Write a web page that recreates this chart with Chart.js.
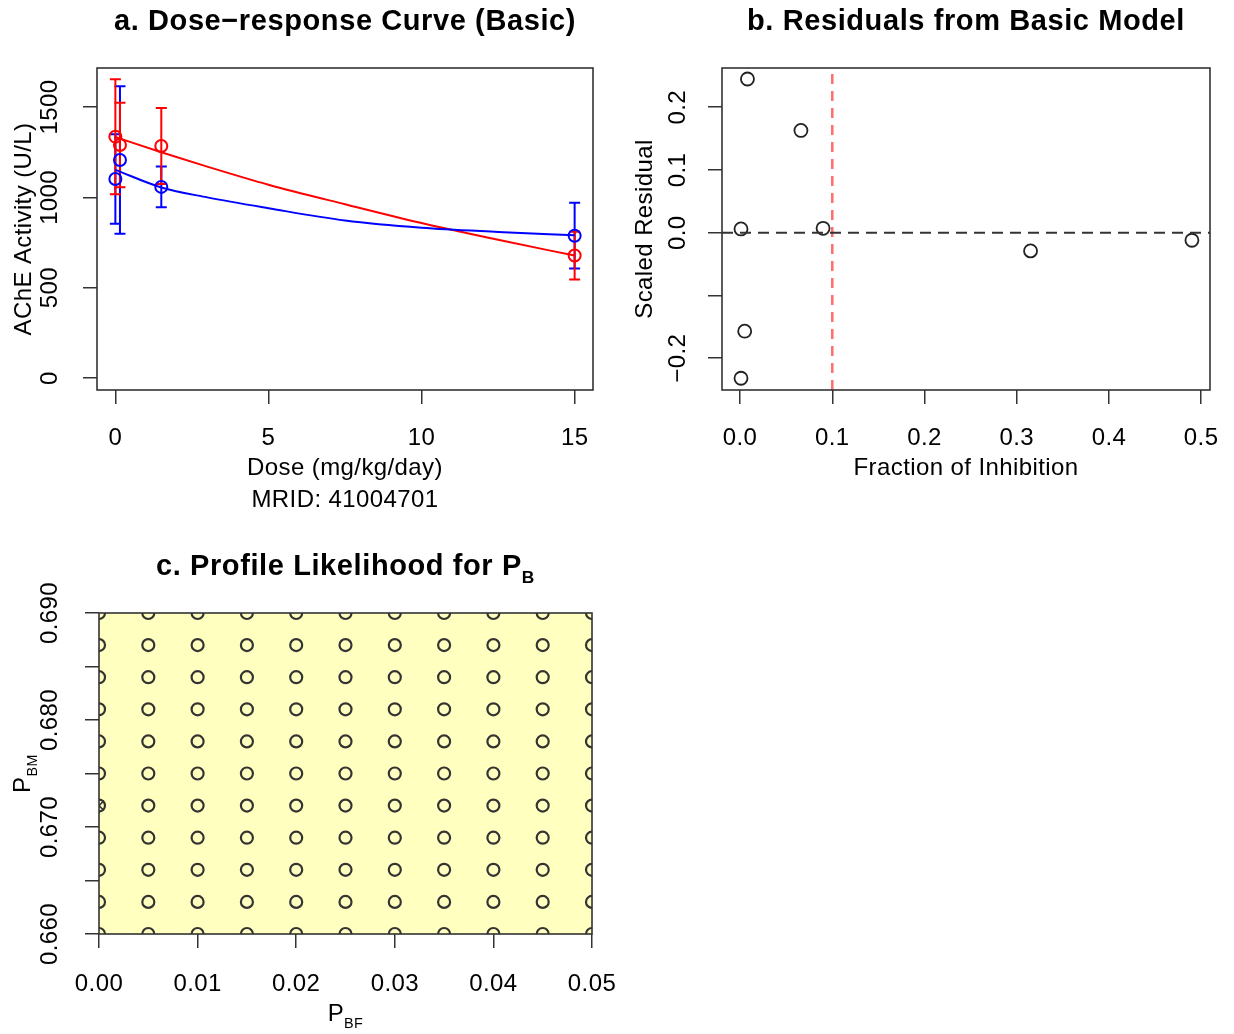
<!DOCTYPE html>
<html>
<head>
<meta charset="utf-8">
<script src="https://cdn.jsdelivr.net/npm/chart.js@4.4.0/dist/chart.umd.min.js"></script>
<style>
  body { margin: 0; background: #fff; }
  .panel { position: absolute; width: 617px; height: 517px; }
</style>
</head>
<body>
<div class="panel" style="left:0;top:0"><canvas id="chartA" width="617" height="517"></canvas></div>
<div class="panel" style="left:617px;top:0"><canvas id="chartB" width="617" height="517"></canvas></div>
<div class="panel" style="left:0;top:517px"><canvas id="chartC" width="617" height="517"></canvas></div>
<script>
// ---- a. dose-response data ----
let doses = [0, 0.15, 1.5, 15];
let redMeans = [1336, 1290, 1284, 678];
let redSd = [318, 234, 210, 132];
let blueMeans = [1102, 1207, 1058, 788];
let blueSd = [248, 408, 113, 182];
// fitted curves
let fitDoses = [0, 1.5, 3, 5, 7.5, 10, 12.5, 15];
let redFit = [1334, 1250, 1170, 1070, 962, 858, 765, 678];
let blueFit = [1152, 1055, 1000, 940, 872, 832, 809, 790];
let doseTicks = [0, 5, 10, 15];
let doseLabels = ['0', '5', '10', '15'];
let activityTicks = [0, 500, 1000, 1500];
let activityLabels = ['0', '500', '1000', '1500'];

// ---- b. residuals ----
let residFraction = [0.008, 0.066, 0.001, 0.090, 0.315, 0.490, 0.005, 0.001];
let residScaled = [0.245, 0.163, 0.006, 0.007, -0.029, -0.012, -0.157, -0.232];
let fractionTicks = [0, 0.1, 0.2, 0.3, 0.4, 0.5];
let fractionLabels = ['0.0', '0.1', '0.2', '0.3', '0.4', '0.5'];
let residTicks = [-0.2, -0.1, 0, 0.1, 0.2];
let residLabels = ['\u22120.2', '', '0.0', '0.1', '0.2'];
let inhibitionCutoff = 0.1;
let zeroResidual = 0;

// ---- c. profile likelihood grid ----
let pbfGrid = [0, 0.005, 0.01, 0.015, 0.02, 0.025, 0.03, 0.035, 0.04, 0.045, 0.05];
let pbmGrid = [0.660, 0.663, 0.666, 0.669, 0.672, 0.675, 0.678, 0.681, 0.684, 0.687, 0.690];
let bestPbf = [0];
let bestPbm = [0.672];
let pbfTicks = [0, 0.01, 0.02, 0.03, 0.04, 0.05];
let pbfLabels = ['0.00', '0.01', '0.02', '0.03', '0.04', '0.05'];
let pbmTicks = [0.660, 0.665, 0.670, 0.675, 0.680, 0.685, 0.690];
let pbmLabels = ['0.660', '', '0.670', '', '0.680', '', '0.690'];

const FONT = '"Liberation Sans", Arial, sans-serif';

// Draw text made of parts [text, isSubscript], centred on x,y (optionally turned 90 degrees)
function drawText(ctx, parts, x, y, size, bold, vertical) {
    ctx.save();
    ctx.translate(x, y);
    if (vertical) ctx.rotate(-Math.PI / 2);
    ctx.letterSpacing = bold ? '0.6px' : '0.4px';
    let weight = bold ? 'bold ' : '';
    let total = 0;
    parts.forEach(p => {
        ctx.font = weight + (p[1] ? size * 0.6 : size) + 'px ' + FONT;
        total += ctx.measureText(p[0]).width;
    });
    let cx = -total / 2;
    ctx.textAlign = 'left';
    ctx.textBaseline = 'alphabetic';
    ctx.fillStyle = '#000';
    parts.forEach(p => {
        ctx.font = weight + (p[1] ? size * 0.6 : size) + 'px ' + FONT;
        ctx.fillText(p[0], cx, size * 0.35 + (p[1] ? size * 0.28 : 0));
        cx += ctx.measureText(p[0]).width;
    });
    ctx.restore();
}

// Axis with only outward tick marks; labels are drawn by the decor plugin
function makeScale(min, max, ticks, fitSize, axis) {
    return {
        type: 'linear',
        min: min,
        max: max,
        afterBuildTicks: s => { s.ticks = ticks.map(v => ({ value: v })); },
        afterFit: s => { if (axis === 'x') s.height = fitSize; else s.width = fitSize; },
        grid: { drawOnChartArea: false, drawTicks: true, tickLength: 14, color: '#333', lineWidth: 1.5 },
        border: { display: false },
        ticks: { display: false, autoSkip: false }
    };
}

// Box, tick labels, titles
function decorPlugin(cfg) {
    return {
        id: 'decor',
        beforeDatasetsDraw(chart) {
            let ctx = chart.ctx, a = chart.chartArea;
            if (cfg.fill) {
                ctx.save();
                ctx.fillStyle = cfg.fill;
                ctx.fillRect(a.left, a.top, a.right - a.left, a.bottom - a.top);
                ctx.restore();
            }
            if (cfg.beforePoints) cfg.beforePoints(chart);
        },
        afterDraw(chart) {
            let ctx = chart.ctx, a = chart.chartArea;
            let xs = chart.scales.x, ys = chart.scales.y;
            ctx.save();
            ctx.strokeStyle = '#333';
            ctx.lineWidth = 1.6;
            ctx.strokeRect(a.left, a.top, a.right - a.left, a.bottom - a.top);
            ctx.restore();
            cfg.xTicks.forEach((v, i) => {
                if (cfg.xLabels[i]) drawText(ctx, [[cfg.xLabels[i]]], xs.getPixelForValue(v), cfg.xLabelY, 24, false, false);
            });
            cfg.yTicks.forEach((v, i) => {
                if (cfg.yLabels[i]) drawText(ctx, [[cfg.yLabels[i]]], cfg.yLabelX, ys.getPixelForValue(v), 24, false, true);
            });
            let midX = (a.left + a.right) / 2, midY = (a.top + a.bottom) / 2;
            drawText(ctx, cfg.title, midX, cfg.titleY, 29, true, false);
            cfg.xTitle.forEach(line => drawText(ctx, line.parts, midX, line.y, 24, false, false));
            drawText(ctx, cfg.yTitle, cfg.yTitleX, midY, 24, false, true);
        }
    };
}

function drawErrorBars(chart, means, sds, color) {
    let ctx = chart.ctx, xs = chart.scales.x, ys = chart.scales.y;
    ctx.save();
    ctx.strokeStyle = color;
    ctx.lineWidth = 2;
    doses.forEach((d, i) => {
        let px = xs.getPixelForValue(d);
        let top = ys.getPixelForValue(means[i] + sds[i]);
        let bot = ys.getPixelForValue(means[i] - sds[i]);
        ctx.beginPath();
        ctx.moveTo(px, top); ctx.lineTo(px, bot);
        ctx.moveTo(px - 5.5, top); ctx.lineTo(px + 5.5, top);
        ctx.moveTo(px - 5.5, bot); ctx.lineTo(px + 5.5, bot);
        ctx.stroke();
    });
    ctx.restore();
}

function pairs(xs, ys) {
    return xs.map((x, i) => ({ x: x, y: ys[i] }));
}

let baseOptions = {
    responsive: false,
    animation: false,
    events: [],
    plugins: { legend: { display: false }, tooltip: { enabled: false } }
};

// a. Dose-response curve
new Chart(document.getElementById('chartA'), {
    type: 'scatter',
    data: {
        datasets: [
            { data: pairs(fitDoses, blueFit), showLine: true, borderColor: '#0000ff', borderWidth: 2, pointRadius: 0, cubicInterpolationMode: 'monotone' },
            { data: pairs(fitDoses, redFit), showLine: true, borderColor: '#ff0000', borderWidth: 2, pointRadius: 0, cubicInterpolationMode: 'monotone' },
            { data: pairs(doses, blueMeans), pointRadius: 6, pointBorderWidth: 2, borderColor: '#0000ff', backgroundColor: 'transparent' },
            { data: pairs(doses, redMeans), pointRadius: 6, pointBorderWidth: 2, borderColor: '#ff0000', backgroundColor: 'transparent' }
        ]
    },
    options: Object.assign({}, baseOptions, {
        layout: { padding: { top: 68, right: 24, left: 0, bottom: 0 } },
        scales: {
            x: makeScale(-0.6, 15.6, doseTicks, 127, 'x'),
            y: makeScale(-66, 1716, activityTicks, 97, 'y')
        }
    }),
    plugins: [decorPlugin({
        xTicks: doseTicks, xLabels: doseLabels, xLabelY: 437,
        yTicks: activityTicks, yLabels: activityLabels, yLabelX: 49,
        title: [['a. Dose\u2212response Curve (Basic)']], titleY: 20,
        xTitle: [{ parts: [['Dose (mg/kg/day)']], y: 467 }, { parts: [['MRID: 41004701']], y: 499 }],
        yTitle: [['AChE Activity (U/L)']], yTitleX: 23,
        beforePoints: chart => {
            drawErrorBars(chart, blueMeans, blueSd, '#0000ff');
            drawErrorBars(chart, redMeans, redSd, '#ff0000');
        }
    })]
});

// b. Residuals from basic model
let bXMin = -0.0196, bXMax = 0.5096, bYMin = -0.2507, bYMax = 0.2625;
new Chart(document.getElementById('chartB'), {
    type: 'scatter',
    data: {
        datasets: [
            { data: [{ x: bXMin, y: zeroResidual }, { x: bXMax, y: zeroResidual }], showLine: true, borderColor: '#333', borderWidth: 2, borderDash: [11, 7], pointRadius: 0 },
            { data: [{ x: inhibitionCutoff, y: bYMin }, { x: inhibitionCutoff, y: bYMax }], showLine: true, borderColor: 'rgba(255,60,60,0.75)', borderWidth: 2.5, borderDash: [10, 7], pointRadius: 0 },
            { data: pairs(residFraction, residScaled), pointRadius: 6.5, pointBorderWidth: 1.8, borderColor: '#222', backgroundColor: 'transparent' }
        ]
    },
    options: Object.assign({}, baseOptions, {
        layout: { padding: { top: 68, right: 24, left: 0, bottom: 0 } },
        scales: {
            x: makeScale(bXMin, bXMax, fractionTicks, 127, 'x'),
            y: makeScale(bYMin, bYMax, residTicks, 105, 'y')
        }
    }),
    plugins: [decorPlugin({
        xTicks: fractionTicks, xLabels: fractionLabels, xLabelY: 437,
        yTicks: residTicks, yLabels: residLabels, yLabelX: 60,
        title: [['b. Residuals from Basic Model']], titleY: 20,
        xTitle: [{ parts: [['Fraction of Inhibition']], y: 467 }],
        yTitle: [['Scaled Residual']], yTitleX: 27
    })]
});

// c. Profile likelihood grid
let gridPoints = [];
pbmGrid.forEach(m => pbfGrid.forEach(f => gridPoints.push({ x: f, y: m })));
new Chart(document.getElementById('chartC'), {
    type: 'scatter',
    data: {
        datasets: [
            { data: gridPoints, pointRadius: 6, pointBorderWidth: 2.2, borderColor: '#333', backgroundColor: 'transparent', clip: 0 },
            { data: pairs(bestPbf, bestPbm), pointStyle: 'crossRot', pointRadius: 7, pointBorderWidth: 1.5, borderColor: '#333', clip: 0 }
        ]
    },
    options: Object.assign({}, baseOptions, {
        layout: { padding: { top: 96, right: 25, left: 0, bottom: 0 } },
        scales: {
            x: makeScale(0, 0.05, pbfTicks, 100, 'x'),
            y: makeScale(0.66, 0.69, pbmTicks, 99, 'y')
        }
    }),
    plugins: [decorPlugin({
        fill: '#ffffbf',
        xTicks: pbfTicks, xLabels: pbfLabels, xLabelY: 466,
        yTicks: pbmTicks, yLabels: pbmLabels, yLabelX: 49,
        title: [['c. Profile Likelihood for P'], ['B', true]], titleY: 48,
        xTitle: [{ parts: [['P'], ['BF', true]], y: 496 }],
        yTitle: [['P'], ['BM', true]], yTitleX: 22
    })]
});
</script>
</body>
</html>
